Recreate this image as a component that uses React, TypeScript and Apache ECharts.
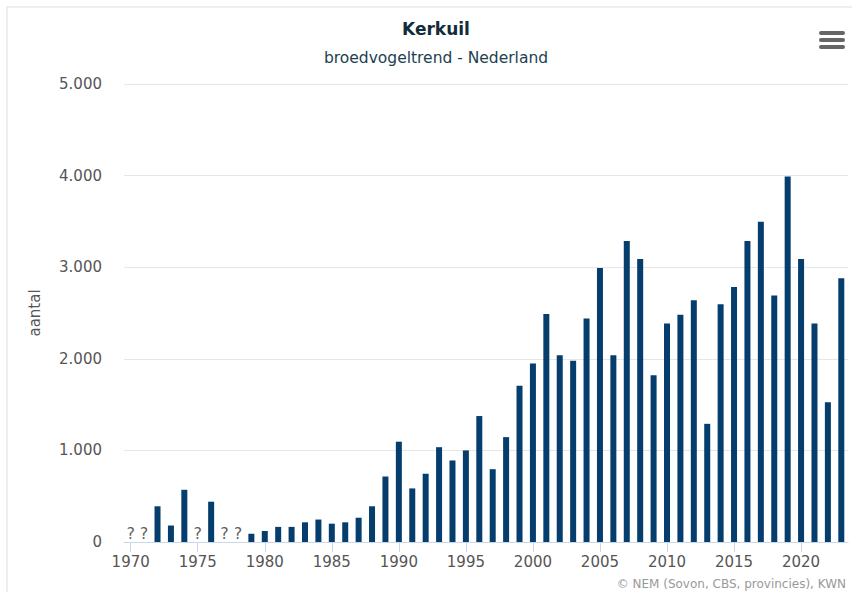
import React, { useEffect, useRef } from "react";
import * as echarts from "echarts";

const years: string[] = [];
for (let y = 1970; y <= 2023; y++) years.push(String(y));

// Broedparen Kerkuil (null = onbekend, "?")
const counts: (number | null)[] = [
  null, null, 390, 180, 570, null, 440, null, null, 90,
  120, 165, 165, 215, 245, 200, 215, 265, 390, 715,
  1095, 585, 745, 1035, 890, 1000, 1375, 795, 1145, 1705,
  1950, 2490, 2040, 1980, 2440, 2990, 2040, 3285, 3090, 1820,
  2385, 2480, 2640, 1290, 2595, 2785, 3285, 3495, 2690, 3990,
  3090, 2385, 1525, 2880,
];

const yTicks = [0, 1000, 2000, 3000, 4000, 5000];

const FONT = "DejaVu Sans";

function fmt(v: number): string {
  return String(v).replace(/\B(?=(\d{3})+(?!\d))/g, ".");
}

export default function App() {
  const ref = useRef<HTMLDivElement>(null);
  useEffect(() => {
    if (!ref.current) return;
    const chart = echarts.init(ref.current, undefined, { renderer: "svg" });
    const unknown = counts.map((v) => (v === null ? 0 : null));
    chart.setOption({
      animation: false,
      backgroundColor: "#ffffff",
      grid: { left: 124, right: 4, top: 84, bottom: 50, containLabel: false },
      xAxis: {
        type: "category",
        data: years,
        boundaryGap: true,
        axisLine: { lineStyle: { color: "#ccd6eb", width: 1 } },
        axisTick: { show: true, alignWithLabel: true, interval: 4, length: 10, lineStyle: { color: "#ccd6eb" } },
        axisLabel: { interval: 4, margin: 12, color: "#555555", fontFamily: FONT, fontSize: 15 },
        splitLine: { show: false },
      },
      yAxis: {
        type: "value",
        min: yTicks[0],
        max: yTicks[yTicks.length - 1],
        interval: 1000,
        name: "aantal",
        nameLocation: "middle",
        nameRotate: 90,
        nameGap: 82,
        nameTextStyle: { color: "#555555", fontFamily: FONT, fontSize: 15 },
        axisLine: { show: false },
        axisTick: { show: false },
        axisLabel: { margin: 22, color: "#555555", fontFamily: FONT, fontSize: 15, formatter: (v: number) => fmt(v) },
        splitLine: { lineStyle: { color: "#e6e6e6", width: 1 } },
      },
      series: [
        {
          type: "bar",
          data: counts,
          barWidth: 6,
          itemStyle: { color: "#053d6c" },
        },
        {
          type: "scatter",
          data: unknown,
          symbolSize: 0,
          silent: true,
          label: {
            show: true,
            position: "top",
            distance: 1,
            formatter: "?",
            color: "#333333",
            fontFamily: FONT,
            fontSize: 16,
          },
        },
      ],
      graphic: [
        {
          type: "rect",
          shape: { x: 7, y: 7, width: 900, height: 700 },
          style: { fill: "none", stroke: "#dddddd", lineWidth: 1 },
          silent: true,
          z: -10,
        },
        {
          type: "text",
          x: 436,
          y: 37,
          style: {
            text: "Kerkuil",
            fill: "#122c3b",
            font: `bold 17px "${FONT}"`,
            textAlign: "center",
            textVerticalAlign: "bottom",
          },
        },
        {
          type: "text",
          x: 436,
          y: 66,
          style: {
            text: "broedvogeltrend - Nederland",
            fill: "#223f50",
            font: `15.5px "${FONT}"`,
            textAlign: "center",
            textVerticalAlign: "bottom",
          },
        },
        { type: "rect", shape: { x: 819, y: 31, width: 26, height: 4, r: 2 }, style: { fill: "#666666" } },
        { type: "rect", shape: { x: 819, y: 38, width: 26, height: 4, r: 2 }, style: { fill: "#666666" } },
        { type: "rect", shape: { x: 819, y: 45, width: 26, height: 4, r: 2 }, style: { fill: "#666666" } },
        {
          type: "text",
          x: 846,
          y: 590,
          style: {
            text: "© NEM (Sovon, CBS, provincies), KWN",
            fill: "#999999",
            font: `12px "${FONT}"`,
            textAlign: "right",
            textVerticalAlign: "bottom",
          },
        },
      ],
    });
    return () => chart.dispose();
  }, []);
  return (
    <div
      ref={ref}
      style={{ position: "absolute", left: 0, top: 0, width: 852, height: 592 }}
    />
  );
}
